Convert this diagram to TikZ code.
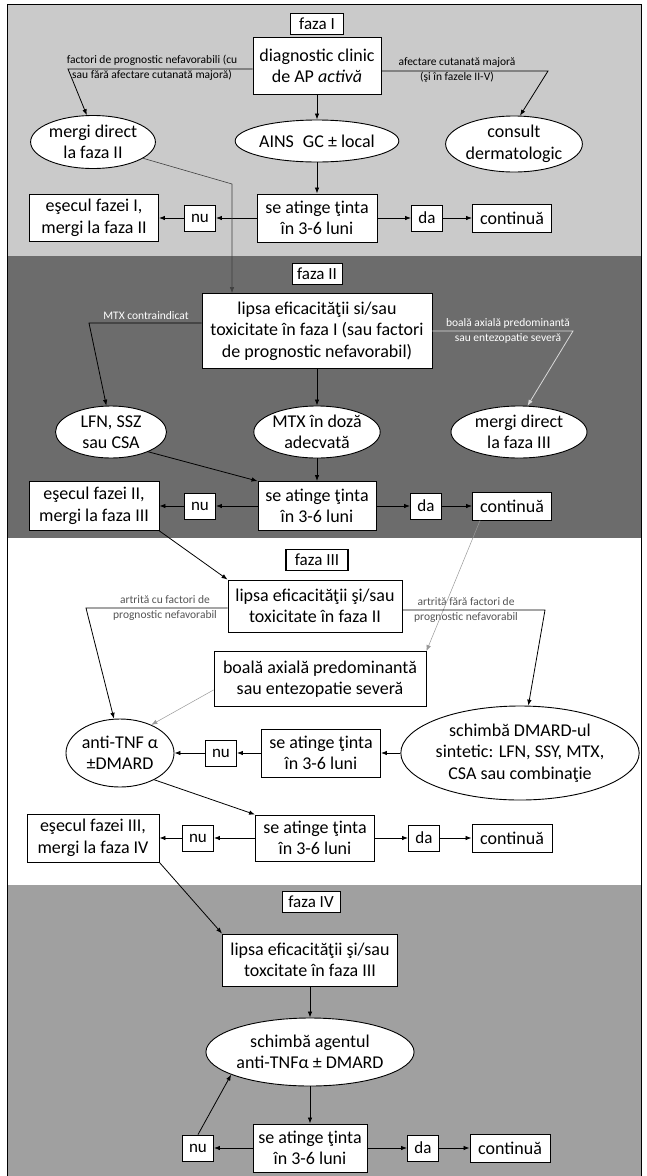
\documentclass[tikz,border=0pt]{standalone}
\usepackage{fontspec}
\setmainfont{Carlito}
\usetikzlibrary{arrows.meta,shapes.geometric,calc}
\definecolor{pI}{HTML}{CACACA}
\definecolor{pII}{HTML}{6C6C6C}
\definecolor{pIV}{HTML}{A0A0A0}
\definecolor{lblgray}{HTML}{555555}
\begin{document}
\begin{tikzpicture}[x=1pt,y=-1pt,
  box/.style={draw=black, fill=white, line width=0.9pt, inner sep=1pt, align=center, font=\fontsize{18}{21.5}\selectfont},
  oval/.style={ellipse, draw=black, fill=white, line width=0.9pt, inner sep=0pt, align=center, font=\fontsize{18}{21.5}\selectfont},
  tag/.style={box, font=\fontsize{17}{19}\selectfont, minimum height=21pt},
  yn/.style={box, minimum width=31pt, minimum height=26pt, font=\fontsize{17}{19}\selectfont},
  lbl/.style={align=center, inner sep=0pt, font=\fontsize{11.5}{15}\selectfont},
  arr/.style={-{Latex[length=6pt,width=4.5pt]}, line width=0.8pt},
  ln/.style={line width=0.8pt}
]
\useasboundingbox (0,0) rectangle (646,1176);
% backgrounds
\fill[white] (0,0) rectangle (646,1176);
\fill[pI] (7,4) rectangle (641,256);
\fill[pII] (7,256) rectangle (641,538);
\fill[white] (7,538) rectangle (641,885);
\fill[pIV] (7,885) rectangle (641,1176);
\draw[line width=1pt] (7,1176) -- (7,4) -- (641,4) -- (641,1176);

% ---------------- faza I
\node[tag, minimum width=53pt] (fI) at (317,24) {faza I};
\node[box, minimum width=128pt, minimum height=57pt] (diag) at (317,66) {diagnostic clinic\\de AP \textit{activă}};
\node[oval, minimum width=115pt, minimum height=53pt] (mergiII) at (93,142) {mergi direct\\la faza II};
\node[oval, minimum width=142pt, minimum height=42pt] (ains) at (317,141) {AINS\enspace GC ± local};
\node[oval, minimum width=122pt, minimum height=56pt] (consult) at (514,144) {consult\\dermatologic};
\node[box, minimum width=120pt, minimum height=48pt] (at1) at (317,218) {se atinge ţinta\\în 3-6 luni};
\node[yn] (nu1) at (200,218) {nu};
\node[box, minimum width=129pt, minimum height=47pt] (es1) at (94,218) {eşecul fazei I,\\mergi la faza II};
\node[yn] (da1) at (427,218) {da};
\node[box, minimum width=79pt, minimum height=28pt] (co1) at (512,218) {continuă};

\node[lbl] (l1) at (152,68) {factori de prognostic nefavorabili (cu\\sau fără afectare cutanată majoră)};
\node[lbl] (l2) at (457,70) {afectare cutanată majoră\\(şi în fazele II-V)};

\coordinate (b1) at (68,69);
\coordinate (b2) at (548,71);
\draw[arr] (b1 -| diag.west) -- (b1) -- (mergiII.103);
\draw[arr] (b2 -| diag.east) -- (b2) -- (consult.78);
\draw[arr] (diag) -- (ains);
\draw[arr] (ains) -- (at1);
\draw[arr] (at1) -- (nu1);
\draw[arr] (nu1) -- (es1);
\draw[arr] (at1) -- (da1);
\draw[arr] (da1) -- (co1);

% ---------------- faza II
\node[tag, minimum width=50pt] (fII) at (317,274) {faza II};
\node[box, minimum width=230pt, minimum height=75pt] (lip2) at (317,331) {lipsa eficacităţii si/sau\\toxicitate în faza I (sau factori\\de prognostic nefavorabil)};
\node[oval, minimum width=111pt, minimum height=52pt] (lfn) at (111,432) {LFN, SSZ\\sau CSA};
\node[oval, minimum width=107pt, minimum height=52pt] (mtx) at (317,432) {MTX în doză\\adecvată};
\node[oval, minimum width=136pt, minimum height=52pt] (mergiIII) at (519,432) {mergi direct\\la faza III};
\node[box, minimum width=118pt, minimum height=49pt] (at2) at (317,506) {se atinge ţinta\\în 3-6 luni};
\node[yn] (nu2) at (200,506) {nu};
\node[box, minimum width=130pt, minimum height=49pt] (es2) at (94,506) {eşecul fazei II,\\mergi la faza III};
\node[yn] (da2) at (426,506) {da};
\node[box, minimum width=79pt, minimum height=28pt] (co2) at (512,506) {continuă};

\node[lbl, text=white] (l3) at (146,316) {MTX contraindicat};
\node[lbl, text=white] (l4) at (508,331) {boală axială predominantă\\sau entezopatie severă};

\coordinate (b3) at (232,184);
\draw[arr, draw=black!75, line width=0.6pt] (mergiII.-18) -- (b3) -- (b3 |- lip2.north);
\coordinate (b4) at (89,323);
\coordinate (b5) at (573,331);
\draw[arr] (b4 -| lip2.west) -- (b4) -- (lfn.100);
\draw[arr, draw=white!85!black] (b5 -| lip2.east) -- (b5) -- (mergiIII.72);
\draw[arr] (lip2) -- (mtx);
\draw[arr] (mtx) -- (at2);
\draw[arr] (lfn.-28) -- (at2.north west);
\draw[arr] (at2) -- (nu2);
\draw[arr] (nu2) -- (es2);
\draw[arr] (at2) -- (da2);
\draw[arr] (da2) -- (co2);

% ---------------- faza III
\node[tag, minimum width=62pt, line width=1.3pt] (fIII) at (317,560) {faza III};
\node[box, minimum width=174pt, minimum height=52pt] (lip3) at (315,606) {lipsa eficacităţii şi/sau\\toxicitate în faza II};
\node[box, minimum width=212pt, minimum height=55pt] (boala) at (320,679) {boală axială predominantă\\sau entezopatie severă};
\node[oval, minimum width=105pt, minimum height=68pt] (tnf) at (120,753) {anti-TNF α\\±DMARD};
\node[yn] (nu3a) at (221,753) {nu};
\node[box, minimum width=119pt, minimum height=48pt] (at3a) at (321,753) {se atinge ţinta\\în 3-6 luni};
\node[oval, minimum width=237pt, minimum height=94pt] (dmard) at (520,753) {schimbă DMARD-ul\\sintetic: LFN, SSY, MTX,\\CSA sau combinaţie};
\node[box, minimum width=119pt, minimum height=46pt] (at3b) at (315,838) {se atinge ţinta\\în 3-6 luni};
\node[yn] (nu3b) at (198,838) {nu};
\node[box, minimum width=132pt, minimum height=48pt] (es3) at (93,838) {eşecul fazei III,\\mergi la faza IV};
\node[yn] (da3) at (424,838) {da};
\node[box, minimum width=80pt, minimum height=28pt] (co3) at (512,838) {continuă};

\node[lbl, text=lblgray] (l5) at (165,608) {artrită cu factori de\\prognostic nefavorabil};
\node[lbl, text=lblgray] (l6) at (466,610) {artrită fără factori de\\prognostic nefavorabil};

\draw[arr] (es2.south east) -- (lip3.north west);
\draw[arr, draw=black!40, line width=0.5pt] ($(co2.south west)+(8,0)$) -- (boala.north east);
\coordinate (b6) at (86,608);
\coordinate (b7) at (545,610);
\draw[arr] (b6 -| lip3.west) -- (b6) -- (tnf.100);
\draw[arr] (b7 -| lip3.east) -- (b7) -- (dmard.80);
\draw[arr, draw=black!40, line width=0.5pt] ($(boala.south west)+(0,-17)$) -- (tnf.42);
\draw[arr] (dmard) -- (at3a);
\draw[arr] (at3a) -- (nu3a);
\draw[arr] (nu3a) -- (tnf);
\draw[arr] (tnf.-38) -- (at3b.north west);
\draw[arr] (at3b) -- (nu3b);
\draw[arr] (nu3b) -- (es3);
\draw[arr] (at3b) -- (da3);
\draw[arr] (da3) -- (co3);

% ---------------- faza IV
\node[tag, minimum width=58pt] (fIV) at (311,902) {faza IV};
\node[box, minimum width=175pt, minimum height=52pt] (lip4) at (310,960) {lipsa eficacităţii şi/sau\\toxcitate în faza III};
\node[oval, minimum width=196pt, minimum height=68pt] (agent) at (310,1052) {schimbă agentul\\anti-TNFα ± DMARD};
\node[box, minimum width=114pt, minimum height=48pt] (at4) at (310,1148) {se atinge ţinta\\în 3-6 luni};
\node[yn] (nu4) at (198,1148) {nu};
\node[yn] (da4) at (423,1148) {da};
\node[box, minimum width=80pt, minimum height=28pt] (co4) at (510,1148) {continuă};

\draw[arr] (es3.south east) -- (lip4.north west);
\draw[arr] (lip4) -- (agent);
\draw[arr] (agent) -- (at4);
\draw[arr] (at4) -- (nu4);
\draw[arr] (nu4.north) -- (agent.196);
\draw[arr] (at4) -- (da4);
\draw[arr] (da4) -- (co4);
\end{tikzpicture}
\end{document}
